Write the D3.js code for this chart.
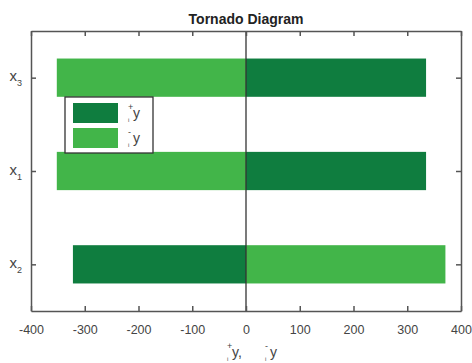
<!DOCTYPE html>
<html>
<head>
<meta charset="utf-8">
<script src="https://cdn.jsdelivr.net/npm/d3@7"></script>
<style>
  body { margin: 0; background: #fff; }
  text { font-family: "Liberation Sans", Arial, sans-serif; }
</style>
</head>
<body>
<svg id="chart"></svg>
<script>
// data
var categories = ['x2', 'x1', 'x3'];        // bottom to top
var catSubs = ['2', '1', '3'];
var plusValues = [-322, 335, 335];          // dark green, i+y
var minusValues = [371, -352, -352];        // light green, i-y
var xTicks = [-400, -300, -200, -100, 0, 100, 200, 300, 400];

var width = 472, height = 363;
var margin = { left: 31, top: 31, right: 11, bottom: 52 };
var plotW = width - margin.left - margin.right;
var plotH = height - margin.top - margin.bottom;
var darkGreen = '#0f7d3f', lightGreen = '#42b549';
var axisColor = '#555';

var svg = d3.select('#chart')
    .attr('width', width)
    .attr('height', height);

var g = svg.append('g')
    .attr('transform', 'translate(' + margin.left + ',' + margin.top + ')');

var xScale = d3.scaleLinear().domain([-400, 400]).range([0, plotW]);
// categories sit at 1,2,3 with limits 0.5..3.5
var yScale = d3.scaleLinear().domain([0.5, 3.5]).range([plotH, 0]);
var barH = yScale(0.5) - yScale(0.91);

// bars
var rows = categories.map(function (c, i) {
    return { pos: i + 1, plus: plusValues[i], minus: minusValues[i] };
});

function drawBars(key, color) {
    g.selectAll('rect.' + key)
        .data(rows)
        .enter()
        .append('rect')
        .attr('class', key)
        .attr('x', function (d) { return xScale(Math.min(0, d[key])); })
        .attr('width', function (d) { return Math.abs(xScale(d[key]) - xScale(0)); })
        .attr('y', function (d) { return yScale(d.pos) - barH / 2; })
        .attr('height', barH)
        .attr('fill', color);
}
drawBars('minus', lightGreen);
drawBars('plus', darkGreen);

// zero line
g.append('line')
    .attr('x1', xScale(0)).attr('x2', xScale(0))
    .attr('y1', 0).attr('y2', plotH)
    .attr('stroke', '#333').attr('stroke-width', 1.3);

// axes, ticks pointing inward like matlab
var xBottom = g.append('g')
    .attr('transform', 'translate(0,' + plotH + ')')
    .call(d3.axisBottom(xScale).tickValues(xTicks).tickSizeInner(-5).tickSizeOuter(0).tickPadding(14)
        .tickFormat(function (d) { return String(d); }));
var xTop = g.append('g')
    .call(d3.axisTop(xScale).tickValues(xTicks).tickSizeInner(-5).tickSizeOuter(0).tickFormat(''));
var yLeft = g.append('g')
    .call(d3.axisLeft(yScale).tickValues([1, 2, 3]).tickSizeInner(-5).tickSizeOuter(0).tickFormat(''));
var yRight = g.append('g')
    .attr('transform', 'translate(' + plotW + ',0)')
    .call(d3.axisRight(yScale).tickValues([1, 2, 3]).tickSizeInner(-5).tickSizeOuter(0).tickFormat(''));

[xBottom, xTop, yLeft, yRight].forEach(function (a) {
    a.selectAll('path, line').attr('stroke', axisColor).attr('stroke-width', 1.5);
    a.selectAll('text').attr('fill', '#444').style('font-size', '12.5px');
});

// category labels with subscripts
yLeft.selectAll('.tick').each(function (d) {
    var t = d3.select(this).append('text')
        .attr('x', -9).attr('y', 3)
        .attr('text-anchor', 'end')
        .attr('fill', '#444')
        .style('font-size', '15px');
    t.append('tspan').text('x');
    t.append('tspan').attr('dy', 5).style('font-size', '9px').text(catSubs[d - 1]);
});

// title
svg.append('text')
    .attr('x', margin.left + plotW / 2)
    .attr('y', 24)
    .attr('text-anchor', 'middle')
    .style('font-size', '14px')
    .style('font-weight', 'bold')
    .attr('fill', '#222')
    .text('Tornado Diagram');

// writes a label like  _i^+ y at x, baseline y
function subSupY(parent, x, y, sign, tail) {
    var t = parent.append('text')
        .attr('x', x).attr('y', y)
        .attr('fill', '#444')
        .style('font-size', '14px');
    t.append('tspan').attr('x', x).attr('dy', 4).style('font-size', '6px').text('i');
    t.append('tspan').attr('x', x).attr('dy', -12).style('font-size', '9px').text(sign);
    t.append('tspan').attr('x', x + 5).attr('dy', 8).text('y' + (tail || ''));
    return t;
}

// x label
subSupY(svg, 227, 357, '+', ',');
subSupY(svg, 265, 357, '-');

// legend
var legend = svg.append('g').attr('transform', 'translate(65,97)');
legend.append('rect')
    .attr('width', 88).attr('height', 56)
    .attr('fill', '#fff').attr('stroke', '#333').attr('stroke-width', 1.3);
var legendItems = [{ sign: '+', color: darkGreen }, { sign: '-', color: lightGreen }];
legendItems.forEach(function (d, i) {
    legend.append('rect')
        .attr('x', 8).attr('y', 6 + i * 25)
        .attr('width', 45).attr('height', 20)
        .attr('fill', d.color);
    subSupY(legend, 63, 21 + i * 25, d.sign);
});
</script>
</body>
</html>
